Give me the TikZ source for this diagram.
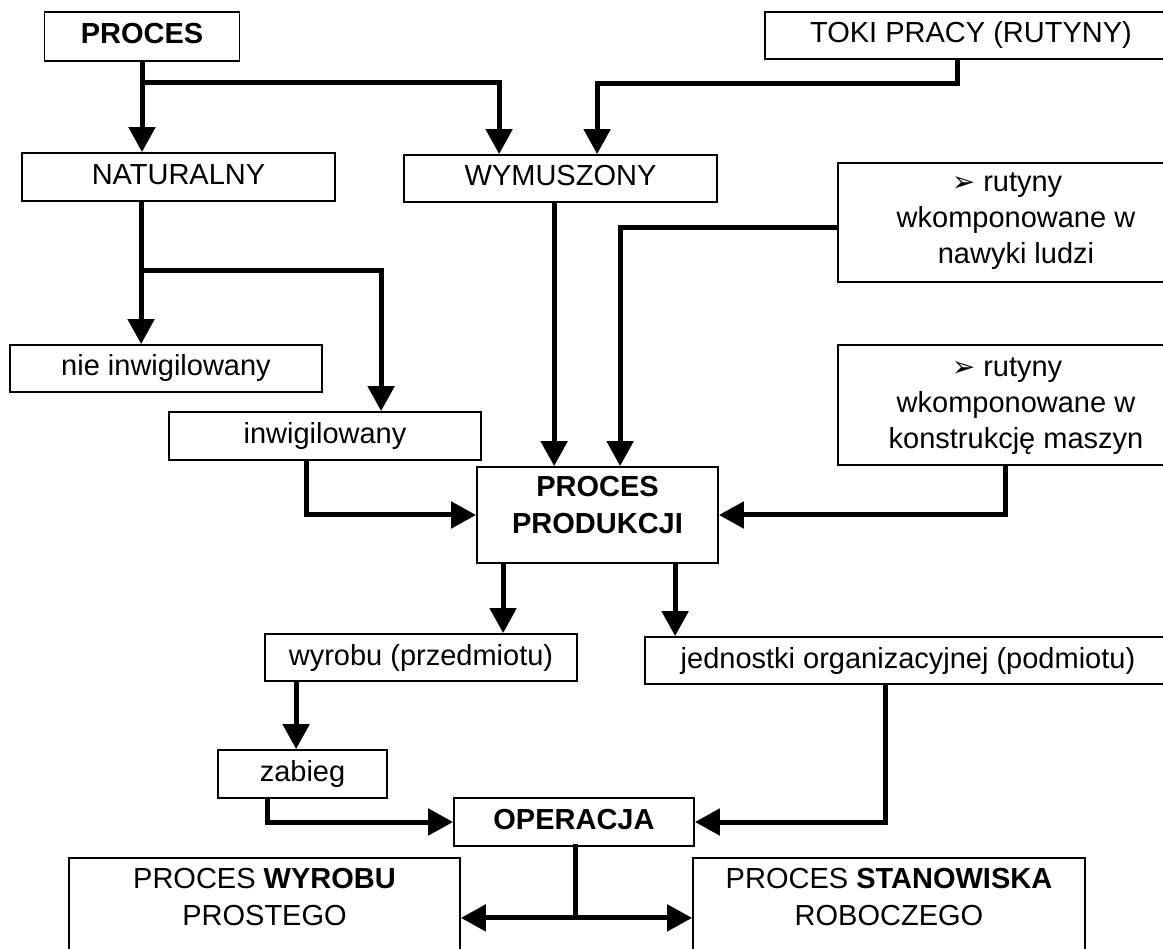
\documentclass[tikz,border=0pt]{standalone}
\usepackage{fontspec}
\setmainfont{Liberation Sans}
\newfontfamily\symfont{DejaVu Sans}
\usetikzlibrary{arrows.meta}
\newcommand{\pointer}{{\symfont\fontsize{28}{28}\selectfont ➢}}

\begin{document}
\begin{tikzpicture}[x=1pt,y=-1pt,
  font=\fontsize{29}{36}\selectfont,
  box/.style={draw, line width=1.8pt, inner sep=0pt, align=center,
              text height=21pt, text depth=6pt},
  flow/.style={line width=5pt, -{Triangle[width=26pt,length=25pt]}},
  link/.style={line width=5pt}]

\useasboundingbox (0,0) rectangle (1163,949);

% boxes
\node[box, minimum width=195pt, minimum height=49pt] (proc) at (142,36.5) {\textbf{PROCES}};
\node[box, minimum width=412pt, minimum height=47pt] (toki) at (971,35.5) {TOKI PRACY (RUTYNY)};
\node[box, minimum width=313pt, minimum height=48pt] (nat) at (178.5,177) {NATURALNY};
\node[box, minimum width=313pt, minimum height=47pt] (wym) at (560.5,178.5) {WYMUSZONY};
\node[box, minimum width=356pt, minimum height=119pt, text height=93pt, text depth=10pt] (rut1) at (1016,222.5)
  {\pointer\ rutyny\hspace*{18pt}\\ wkomponowane w\\ nawyki ludzi};
\node[box, minimum width=312pt, minimum height=47pt] (nie) at (166,368.5) {nie inwigilowany};
\node[box, minimum width=312pt, minimum height=48pt] (inw) at (325,436) {inwigilowany};
\node[box, minimum width=356pt, minimum height=120pt, text height=93pt, text depth=6pt] (rut2) at (1016,405)
  {\pointer\ rutyny\hspace*{18pt}\\ wkomponowane w\\ konstrukcję maszyn};
\node[box, minimum width=241pt, minimum height=96pt, text height=57pt, text depth=21pt] (pp) at (597.5,515)
  {\textbf{PROCES}\\ \textbf{PRODUKCJI}};
\node[box, minimum width=312pt, minimum height=47pt] (wyr) at (421,657.5) {wyrobu (przedmiotu)};
\node[box, minimum width=526pt, minimum height=47pt] (jed) at (908,660.5) {jednostki organizacyjnej (podmiotu)};
\node[box, minimum width=169pt, minimum height=48pt] (zab) at (302.5,774) {zabieg};
\node[box, minimum width=240pt, minimum height=48pt] (op) at (574,822) {\textbf{OPERACJA}};
\node[box, minimum width=391pt, minimum height=120pt, text height=58pt, text depth=44pt] (pw) at (264.5,918)
  {PROCES \textbf{WYROBU}\\[1pt] PROSTEGO};
\node[box, minimum width=392pt, minimum height=120pt, text height=58pt, text depth=44pt] (ps) at (889,918)
  {PROCES \textbf{STANOWISKA}\\[1pt] ROBOCZEGO};

% junctions
\coordinate (j1) at ([yshift=-21pt]proc.south);
\coordinate (j2) at ([xshift=120pt,yshift=-69pt]nat.south west);
\coordinate (j3) at ([xshift=122pt,yshift=-71pt]op.south west);

% connectors
\draw[flow] (proc.south) -- (proc.south |- nat.north);
\draw[flow] (j1) -| ([xshift=96pt]wym.north west);
\draw[flow] ([xshift=193pt]toki.south west) -- ++(0,24) -| ([xshift=194pt]wym.north west);
\draw[flow] ([xshift=120pt]nat.south west) -- ([xshift=132pt]nie.north west);
\draw[flow] (j2) -| ([xshift=213pt]inw.north west);
\draw[flow] ([xshift=151pt]wym.south west) -- ([xshift=78pt]pp.north west);
\draw[flow] ([yshift=-5.5pt]rut1.west) -| ([xshift=144pt]pp.north west);
\draw[flow] ([xshift=168pt]rut2.south west) |- (pp.east);
\draw[flow] ([xshift=138pt]inw.south west) |- (pp.west);
\draw[flow] ([xshift=27pt]pp.south west) -- ([xshift=239pt]wyr.north west);
\draw[flow] ([xshift=199pt]pp.south west) -- ([xshift=31pt]jed.north west);
\draw[flow] ([xshift=32pt]wyr.south west) -- ([xshift=79pt]zab.north west);
\draw[flow] ([xshift=50pt]zab.south west) |- (op.west);
\draw[flow] ([xshift=241pt]jed.south west) |- (op.east);
\draw[link, line cap=rect] ([xshift=122pt]op.south west) -- (j3);
\draw[flow] (j3) -- (j3 -| pw.east);
\draw[flow] (j3) -- (j3 -| ps.west);
\end{tikzpicture}
\end{document}
